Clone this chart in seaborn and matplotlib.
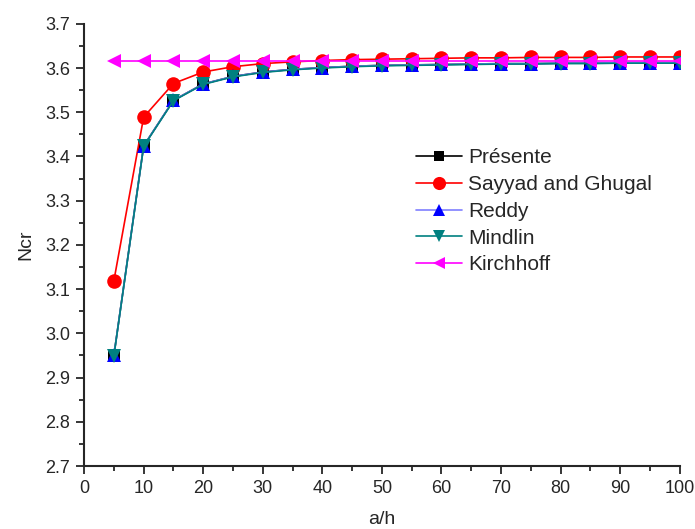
import matplotlib
matplotlib.use('Agg')
import matplotlib.pyplot as plt
from matplotlib.ticker import MultipleLocator
import seaborn as sns
import pandas as pd

# Values
a_h = [5, 10, 15, 20, 25, 30, 35, 40, 45, 50, 55, 60, 65, 70, 75, 80, 85, 90, 95, 100]
presente = [2.950, 3.424, 3.527, 3.564, 3.581, 3.591, 3.597, 3.601, 3.604, 3.606,
            3.607, 3.608, 3.609, 3.610, 3.610, 3.611, 3.611, 3.612, 3.612, 3.612]
sayyad = [3.119, 3.489, 3.565, 3.591, 3.603, 3.610, 3.614, 3.617, 3.619, 3.620,
          3.621, 3.622, 3.623, 3.623, 3.624, 3.624, 3.624, 3.625, 3.625, 3.625]
reddy = [2.950, 3.424, 3.527, 3.564, 3.581, 3.591, 3.597, 3.601, 3.604, 3.606,
         3.607, 3.608, 3.609, 3.610, 3.610, 3.611, 3.611, 3.612, 3.612, 3.612]
mindlin = [2.949, 3.423, 3.526, 3.563, 3.580, 3.590, 3.596, 3.600, 3.603, 3.605,
           3.606, 3.607, 3.608, 3.609, 3.609, 3.610, 3.610, 3.611, 3.611, 3.611]
kirchhoff = [3.615, 3.615, 3.615, 3.615, 3.615, 3.615, 3.615, 3.615, 3.615, 3.615,
             3.615, 3.615, 3.615, 3.615, 3.615, 3.615, 3.615, 3.615, 3.615, 3.615]

series = ['Présente', 'Sayyad and Ghugal', 'Reddy', 'Mindlin', 'Kirchhoff']
values = [presente, sayyad, reddy, mindlin, kirchhoff]
line_colors = ['black', 'red', '#7f7fff', '#008080', '#ff00ff']
marker_colors = ['black', 'red', 'blue', '#008080', '#ff00ff']
markers = ['s', 'o', '^', 'v', '<']
sizes = [8, 10.5, 9.5, 10, 10]

sns.set_style('ticks')
plt.rcParams['font.family'] = ['Liberation Sans', 'DejaVu Sans']

fig, ax = plt.subplots(figsize=(6.95, 5.29), dpi=100)
fig.subplots_adjust(left=0.121, right=0.978, top=0.955, bottom=0.119)

for name, vals, lc, mc, mk, ms in zip(series, values, line_colors, marker_colors, markers, sizes):
    df = pd.DataFrame({'a/h': a_h, 'Ncr': vals})
    sns.lineplot(data=df, x='a/h', y='Ncr', ax=ax, color=lc, lw=1.2,
                 marker=mk, markersize=ms, markerfacecolor=mc, markeredgecolor=mc,
                 markeredgewidth=0, label=name)

ax.set_xlim(0, 100)
ax.set_ylim(2.7, 3.7)
ax.xaxis.set_major_locator(MultipleLocator(10))
ax.xaxis.set_minor_locator(MultipleLocator(5))
ax.yaxis.set_major_locator(MultipleLocator(0.1))
ax.yaxis.set_minor_locator(MultipleLocator(0.05))
ax.yaxis.set_major_formatter(matplotlib.ticker.FormatStrFormatter('%.1f'))
ax.tick_params(which='major', direction='out', length=6, width=1.3, labelsize=13, pad=4)
ax.tick_params(which='minor', direction='out', length=3.5, width=1.3)
for s in ['left', 'bottom']:
    ax.spines[s].set_linewidth(1.5)
sns.despine(ax=ax)
ax.set_xlabel('a/h', fontsize=14, labelpad=10)
ax.set_ylabel('Ncr', fontsize=14, labelpad=8)

ax.legend(loc='upper left', bbox_to_anchor=(0.543, 0.737), frameon=False,
          fontsize=15, handlelength=2.2, handletextpad=0.3, labelspacing=0.37,
          borderaxespad=0, markerscale=0.9)

plt.savefig('out.png', dpi=100)
